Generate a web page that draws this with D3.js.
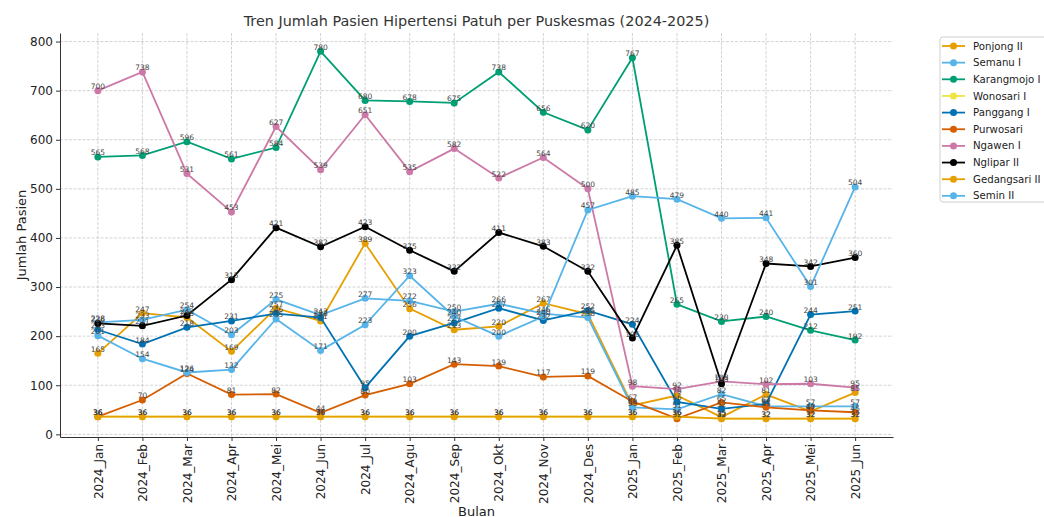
<!DOCTYPE html>
<html>
<head>
<meta charset="utf-8">
<script src="https://cdn.jsdelivr.net/npm/d3@7"></script>
<style>
  body { margin: 0; background: #fff; }
  svg { font-family: "DejaVu Sans", sans-serif; }
</style>
</head>
<body>
<svg width="1044" height="517"></svg>
<script>
// months on the x axis
var months = ["2024_Jan", "2024_Feb", "2024_Mar", "2024_Apr", "2024_Mei", "2024_Jun",
  "2024_Jul", "2024_Agu", "2024_Sep", "2024_Okt", "2024_Nov", "2024_Des",
  "2025_Jan", "2025_Feb", "2025_Mar", "2025_Apr", "2025_Mei", "2025_Jun"];

// patients per puskesmas
var ponjongII    = [165, 247, 238, 169, 257, 231, 389, 256, 213, 220, 267, 245, 59, 79, 35, 81, 47, 85];
var semanuI      = [228, 233, 254, 203, 275, 243, 277, 272, 250, 266, 246, 238, 55, 51, 82, 57, 57, 57];
var karangmojoI  = [565, 568, 596, 561, 584, 780, 680, 678, 675, 738, 656, 620, 767, 265, 230, 240, 212, 192];
var wonosariI    = [36, 36, 36, 36, 36, 36, 36, 36, 36, 36, 36, 36, 36, 36, 32, 32, 32, 32];
var panggangI    = [213, 184, 218, 231, 246, 238, 95, 200, 227, 257, 232, 252, 224, 66, 52, 62, 244, 251];
var purwosari    = [36, 70, 124, 81, 82, 44, 80, 103, 143, 139, 117, 119, 67, 32, 65, 55, 49, 45];
var ngawenI      = [700, 738, 531, 453, 627, 539, 651, 535, 582, 522, 564, 500, 98, 92, 108, 102, 103, 95];
var ngliparII    = [226, 221, 242, 315, 421, 382, 423, 375, 332, 411, 383, 332, 196, 385, 103, 348, 342, 360];
var gedangsariII = [36, 36, 36, 36, 36, 36, 36, 36, 36, 36, 36, 36, 36, 36, 32, 32, 32, 32];
var seminII      = [201, 154, 126, 132, 235, 171, 223, 323, 240, 200, 240, 457, 485, 479, 440, 441, 301, 504];

var seriesNames = ["Ponjong II", "Semanu I", "Karangmojo I", "Wonosari I", "Panggang I",
  "Purwosari", "Ngawen I", "Nglipar II", "Gedangsari II", "Semin II"];
var seriesValues = [ponjongII, semanuI, karangmojoI, wonosariI, panggangI,
  purwosari, ngawenI, ngliparII, gedangsariII, seminII];
var yTicks = [0, 100, 200, 300, 400, 500, 600, 700, 800];

// colour-blind palette, cycles after 8
var colours = ["#E69F00", "#56B4E9", "#009E73", "#F0E442", "#0072B2",
  "#D55E00", "#CC79A7", "#000000", "#E69F00", "#56B4E9"];

var svg = d3.select("svg"),
    margin = {top: 33, right: 151, bottom: 80, left: 60},
    width = +svg.attr("width") - margin.left - margin.right,
    height = +svg.attr("height") - margin.top - margin.bottom,
    g = svg.append("g").attr("transform", "translate(" + margin.left + "," + margin.top + ")");

var data = seriesNames.map(function(name, k) {
  return {name: name, colour: colours[k], values: seriesValues[k]};
});

// matplotlib style 5% padding
var allVals = d3.merge(seriesValues),
    vMin = d3.min(allVals), vMax = d3.max(allVals), pad = (vMax - vMin) * 0.05;

var x = d3.scaleLinear()
    .domain([-0.05 * (months.length - 1), (months.length - 1) * 1.05])
    .range([0, width]);

var y = d3.scaleLinear()
    .domain([vMin - pad, vMax + pad])
    .range([height, 0]);

// grid
g.append("g")
  .selectAll("line")
  .data(yTicks)
  .enter().append("line")
    .attr("x1", 0).attr("x2", width)
    .attr("y1", function(d) { return y(d); })
    .attr("y2", function(d) { return y(d); })
    .attr("stroke", "#c8c8c8").attr("stroke-width", 0.8).attr("stroke-dasharray", "3,1.5");

g.append("g")
  .selectAll("line")
  .data(months)
  .enter().append("line")
    .attr("x1", function(d, i) { return x(i); })
    .attr("x2", function(d, i) { return x(i); })
    .attr("y1", 0).attr("y2", height)
    .attr("stroke", "#c8c8c8").attr("stroke-width", 0.8).attr("stroke-dasharray", "3,1.5");

// AXES
var yAxis = g.append("g")
    .call(d3.axisLeft(y).tickValues(yTicks).tickSize(4).tickSizeOuter(0).tickPadding(3));

var xAxis = g.append("g")
    .attr("transform", "translate(0," + height + ")")
    .call(d3.axisBottom(x).tickValues(d3.range(months.length)).tickFormat(function(i) { return months[i]; })
      .tickSize(4).tickSizeOuter(0));

xAxis.selectAll("text")
    .attr("transform", "rotate(-90)")
    .attr("text-anchor", "end")
    .attr("x", -7)
    .attr("y", 0)
    .attr("dy", "0.35em");

[yAxis, xAxis].forEach(function(ax) {
  ax.selectAll("text").attr("font-size", 12).attr("fill", "#222").attr("font-family", "DejaVu Sans");
  ax.selectAll("line").attr("stroke", "#333");
  ax.select(".domain").attr("stroke", "#333");
});

// lines and points
var line = d3.line()
    .x(function(d, i) { return x(i); })
    .y(function(d) { return y(d); });

var series = g.append("g")
  .selectAll("g")
  .data(data)
  .enter().append("g");

series.append("path")
    .attr("d", function(d) { return line(d.values); })
    .attr("fill", "none")
    .attr("stroke", function(d) { return d.colour; })
    .attr("stroke-width", 1.8);

series.selectAll("circle")
  .data(function(d) { return d.values.map(function(v) { return {v: v, c: d.colour}; }); })
  .enter().append("circle")
    .attr("cx", function(d, i) { return x(i); })
    .attr("cy", function(d) { return y(d.v); })
    .attr("r", 3.5)
    .attr("fill", function(d) { return d.c; });

// value labels above each point
var labels = g.append("g")
    .attr("font-size", 7.5)
    .attr("fill", "#444")
    .attr("text-anchor", "middle");

data.forEach(function(s) {
  labels.selectAll(null)
    .data(s.values)
    .enter().append("text")
      .attr("x", function(d, i) { return x(i); })
      .attr("y", function(d) { return y(d) - 1.5; })
      .text(function(d) { return d; });
});

// titles
svg.append("text")
    .attr("x", margin.left + width / 2)
    .attr("y", 26)
    .attr("text-anchor", "middle")
    .attr("font-size", 14.4)
    .attr("fill", "#333")
    .text("Tren Jumlah Pasien Hipertensi Patuh per Puskesmas (2024-2025)");

svg.append("text")
    .attr("transform", "translate(26," + (margin.top + height / 2) + ") rotate(-90)")
    .attr("text-anchor", "middle")
    .attr("font-size", 13)
    .attr("fill", "#222")
    .text("Jumlah Pasien");

svg.append("text")
    .attr("x", margin.left + width / 2)
    .attr("y", 516)
    .attr("text-anchor", "middle")
    .attr("font-size", 13)
    .attr("fill", "#222")
    .text("Bulan");

// LEGEND
var legend = svg.append("g").attr("transform", "translate(940,37)");

legend.append("rect")
    .attr("width", 140)
    .attr("height", 165)
    .attr("rx", 3)
    .attr("fill", "#fff")
    .attr("stroke", "#d0d0d0");

var item = legend.selectAll("g")
  .data(data)
  .enter().append("g")
    .attr("transform", function(d, i) { return "translate(0," + (9 + i * 16.65) + ")"; });

item.append("line")
    .attr("x1", 2).attr("x2", 25)
    .attr("stroke", function(d) { return d.colour; })
    .attr("stroke-width", 1.8);

item.append("circle")
    .attr("cx", 13.5)
    .attr("r", 3.5)
    .attr("fill", function(d) { return d.colour; });

item.append("text")
    .attr("x", 33)
    .attr("dy", "0.35em")
    .attr("font-size", 10.2)
    .attr("fill", "#222")
    .text(function(d) { return d.name; });
</script>
</body>
</html>
